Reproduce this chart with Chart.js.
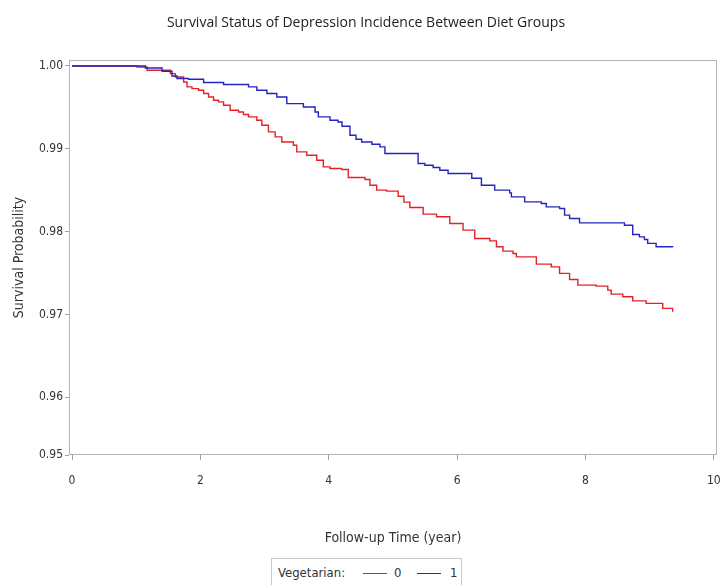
<!DOCTYPE html>
<html>
<head>
<meta charset="utf-8">
<script src="https://cdn.jsdelivr.net/npm/chart.js@4"></script>
<style>
  body { margin: 0; background: #fff; }
  #wrap { position: relative; width: 723px; height: 585px; overflow: hidden; }
  #grafico { position: absolute; left: 0; top: 0; }
  #titulo {
    position: absolute; left: 166px; width: 400px; top: 12px; line-height: 19px; text-align: center;
    font-family: "Open Sans", sans-serif; font-size: 14px; color: #222; white-space: nowrap;
  }
  #leyenda {
    position: absolute; left: 271px; top: 558px; width: 191px; height: 40px;
    border: 1px solid #c8c8c8; box-sizing: border-box;
    font-family: "DejaVu Sans Condensed", "DejaVu Sans", sans-serif; font-size: 13px; color: #333;
  }
  #leyenda span { position: absolute; top: 6px; }
  #leyenda .linea { top: 14px; height: 0; width: 24px; border-top: 1.6px solid; }
</style>
</head>
<body>
<div id="wrap">
  <canvas id="grafico" width="723" height="550"></canvas>
  <div id="titulo">Survival Status of Depression Incidence Between Diet Groups</div>
  <div id="leyenda">
    <span style="left:6px">Vegetarian:</span>
    <span class="linea" style="left:91px; border-color: rgb(226,34,40)"></span>
    <span style="left:122px">0</span>
    <span class="linea" style="left:145px; border-color: rgb(36,36,190)"></span>
    <span style="left:178px">1</span>
  </div>
</div>
<script>
// Vegetarian = 0 (rojo)
const tiempo0 = [0, 1.014, 1.170, 1.532, 1.610, 1.739, 1.792, 1.869, 1.972, 2.050, 2.128, 2.205, 2.283, 2.361, 2.465,
    2.594, 2.672, 2.750, 2.880, 2.958, 3.061, 3.165, 3.269, 3.449, 3.502, 3.658, 3.813, 3.916, 4.020, 4.202,
    4.305, 4.565, 4.642, 4.747, 4.902, 5.082, 5.171, 5.264, 5.471, 5.680, 5.886, 6.093, 6.275, 6.509, 6.613,
    6.715, 6.871, 6.924, 7.235, 7.468, 7.597, 7.753, 7.882, 8.168, 8.348, 8.401, 8.582, 8.737, 8.946, 9.204,
    9.359];
const supervivencia0 = [1.0, 0.99988, 0.99948, 0.99908, 0.99867, 0.99807, 0.99747, 0.99727, 0.99707, 0.99667, 0.99626, 0.99586, 0.99566, 0.99526, 0.99466,
    0.99445, 0.99414, 0.99385, 0.99345, 0.99285, 0.99204, 0.99144, 0.99083, 0.99043, 0.98963, 0.98923, 0.98862, 0.98782, 0.98762, 0.98750,
    0.98654, 0.98630, 0.98561, 0.98501, 0.98489, 0.98428, 0.98356, 0.98292, 0.98211, 0.98179, 0.98099, 0.98018, 0.97918, 0.97889, 0.97817,
    0.97765, 0.97737, 0.97696, 0.97608, 0.97575, 0.97496, 0.97423, 0.97355, 0.97343, 0.97294, 0.97246, 0.97214, 0.97165, 0.97134, 0.97074,
    0.97033];

// Vegetarian = 1 (azul)
const tiempo1 = [0, 1.143, 1.403, 1.558, 1.636, 1.816, 2.050, 2.361, 2.750, 2.880, 3.036, 3.191, 3.347, 3.605, 3.787,
    3.838, 4.020, 4.145, 4.207, 4.331, 4.425, 4.513, 4.673, 4.798, 4.876, 5.393, 5.498, 5.627, 5.731, 5.860,
    6.229, 6.379, 6.586, 6.820, 6.846, 7.053, 7.313, 7.390, 7.597, 7.675, 7.753, 7.908, 8.608, 8.737, 8.841,
    8.919, 8.970, 9.101, 9.359];
const supervivencia1 = [1.0, 0.99976, 0.99936, 0.99879, 0.99848, 0.99840, 0.99800, 0.99776, 0.99747, 0.99707, 0.99667, 0.99626, 0.99546, 0.99505, 0.99445,
    0.99385, 0.99345, 0.99324, 0.99273, 0.99164, 0.99116, 0.99083, 0.99055, 0.99023, 0.98943, 0.98823, 0.98802, 0.98774, 0.98742, 0.98702,
    0.98645, 0.98561, 0.98501, 0.98468, 0.98420, 0.98359, 0.98340, 0.98299, 0.98280, 0.98199, 0.98159, 0.98106, 0.98078, 0.97966, 0.97937,
    0.97906, 0.97858, 0.97817, 0.97813];

const ticksX = [0, 2, 4, 6, 8, 10];
const etiquetasX = ["0", "2", "4", "6", "8", "10"];
// el eje del original termina en ~0.953 aunque la marca inferior dice 0.95
const ticksY = [0.95304, 0.96, 0.97, 0.98, 0.99, 1.00];
const etiquetasY = ["0.95", "0.96", "0.97", "0.98", "0.99", "1.00"];

const fuente = "'DejaVu Sans Condensed', 'DejaVu Sans', sans-serif";

const puntos = (ts, ss) => ts.map((t, i) => ({ x: t, y: ss[i] }));

// marco gris alrededor del area del grafico
const marco = {
    id: "marco",
    afterDatasetsDraw(chart) {
        const a = chart.chartArea;
        const ctx = chart.ctx;
        ctx.save();
        ctx.strokeStyle = "#b4b4b4";
        ctx.lineWidth = 1;
        ctx.strokeRect(Math.round(a.left) + 0.5, Math.round(a.top) + 0.5,
            Math.round(a.right - a.left) - 1, Math.round(a.bottom - a.top) - 1);
        ctx.restore();
    }
};

new Chart(document.getElementById("grafico"), {
    type: "line",
    data: {
        datasets: [{
            label: "0",
            data: puntos(tiempo0, supervivencia0),
            borderColor: "rgb(226,34,40)",
            borderWidth: 1.4,
            stepped: true,
            pointRadius: 0,
            fill: false,
            order: 2
        }, {
            label: "1",
            data: puntos(tiempo1, supervivencia1),
            borderColor: "rgb(36,36,190)",
            borderWidth: 1.4,
            stepped: true,
            pointRadius: 0,
            fill: false,
            order: 1
        }]
    },
    options: {
        responsive: false,
        animation: false,
        layout: { padding: { top: 60, right: 6, bottom: 0, left: 0 } },
        plugins: {
            legend: { display: false },
            tooltip: { enabled: false },
            title: { display: false }
        },
        scales: {
            x: {
                type: "linear",
                min: -0.047,
                max: 10.05,
                afterBuildTicks: s => { s.ticks = ticksX.map(v => ({ value: v })); },
                afterFit: s => { s.height = 95; s.paddingLeft = 0; s.paddingRight = 0; },
                ticks: {
                    callback: (v) => etiquetasX[ticksX.indexOf(v)],
                    color: "#333",
                    font: { family: fuente, size: 12 },
                    padding: 14,
                    maxRotation: 0
                },
                grid: { drawOnChartArea: false, drawTicks: true, tickLength: 5, color: "#a0a0a0" },
                border: { display: false },
                title: {
                    display: true,
                    text: "Follow-up Time (year)",
                    color: "#333",
                    font: { family: fuente, size: 14 },
                    padding: { top: 4, bottom: 3 }
                }
            },
            y: {
                type: "linear",
                min: 0.95304,
                max: 1.00072,
                afterBuildTicks: s => { s.ticks = ticksY.map(v => ({ value: v })); },
                afterFit: s => { s.width = 69; s.paddingTop = 0; s.paddingBottom = 0; },
                ticks: {
                    callback: (v) => etiquetasY[ticksY.indexOf(v)],
                    color: "#333",
                    font: { family: fuente, size: 12 },
                    padding: 2
                },
                grid: { drawOnChartArea: false, drawTicks: true, tickLength: 4, color: "#a0a0a0" },
                border: { display: false },
                title: {
                    display: true,
                    text: "Survival Probability",
                    color: "#333",
                    font: { family: fuente, size: 14 },
                    padding: { top: 11, bottom: 0 }
                }
            }
        }
    },
    plugins: [marco]
});
</script>
</body>
</html>
